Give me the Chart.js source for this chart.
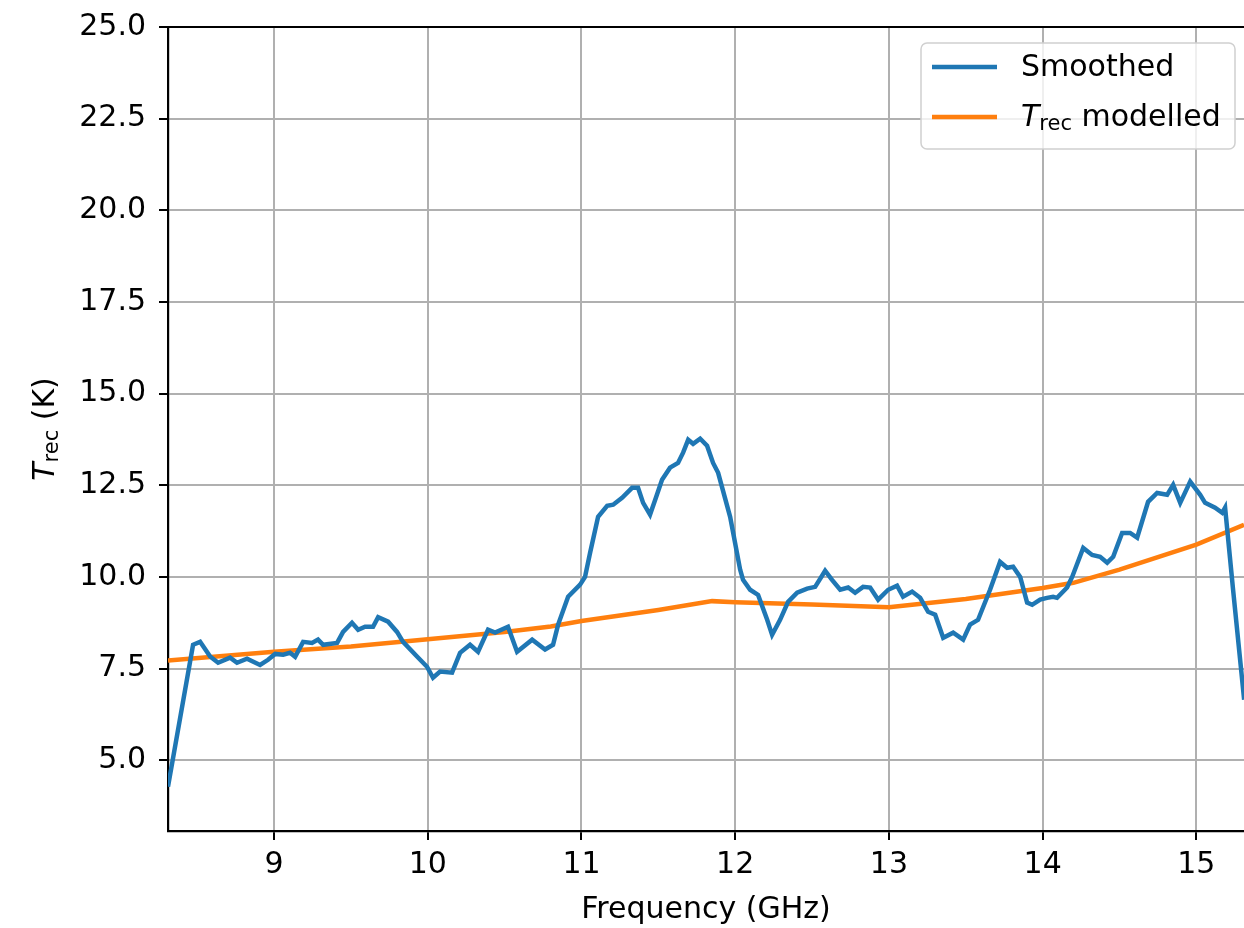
<!DOCTYPE html>
<html>
<head>
<meta charset="utf-8">
<script src="https://cdn.jsdelivr.net/npm/chart.js@4/dist/chart.umd.min.js"></script>
<style>
  html, body { margin: 0; padding: 0; background: #ffffff; }
  #wrap { width: 1244px; height: 928px; position: relative; }
  canvas { display: block; }
</style>
</head>
<body>
<div id="wrap"><canvas id="chart" width="1244" height="928"></canvas></div>
<script>
// Receiver temperature: smoothed measurement (GHz, K)
const freqSmoothed = [
  8.310, 8.473, 8.519, 8.584, 8.636, 8.714, 8.759, 8.824, 8.909, 8.961,
  9.007, 9.059, 9.104, 9.137, 9.189, 9.247, 9.286, 9.319, 9.410, 9.449,
  9.507, 9.547, 9.592, 9.644, 9.677, 9.742, 9.800, 9.839, 9.930, 9.995,
  10.034, 10.080, 10.158, 10.210, 10.275, 10.327, 10.392, 10.438, 10.522, 10.581,
  10.679, 10.763, 10.815, 10.848, 10.913, 10.991, 11.023, 11.056, 11.108, 11.167,
  11.206, 11.264, 11.329, 11.368, 11.401, 11.446, 11.479, 11.524, 11.576, 11.628,
  11.661, 11.694, 11.726, 11.772, 11.817, 11.856, 11.889, 11.967, 12.032, 12.051,
  12.097, 12.149, 12.208, 12.240, 12.292, 12.344, 12.403, 12.468, 12.520, 12.585,
  12.630, 12.683, 12.735, 12.780, 12.832, 12.878, 12.930, 12.995, 13.053, 13.092,
  13.151, 13.203, 13.255, 13.301, 13.353, 13.418, 13.483, 13.528, 13.580, 13.658,
  13.723, 13.769, 13.808, 13.854, 13.899, 13.932, 13.984, 14.029, 14.068, 14.094,
  14.159, 14.192, 14.264, 14.322, 14.374, 14.420, 14.459, 14.517, 14.569, 14.615,
  14.686, 14.745, 14.810, 14.849, 14.895, 14.960, 15.025, 15.057, 15.122, 15.168,
  15.187, 15.239, 15.311, 15.396
];
const tSmoothed = [
  4.28, 8.15, 8.23, 7.83, 7.66, 7.80, 7.66, 7.77, 7.60, 7.74,
  7.90, 7.88, 7.93, 7.82, 8.23, 8.20, 8.29, 8.15, 8.20, 8.50,
  8.75, 8.56, 8.64, 8.64, 8.90, 8.78, 8.50, 8.23, 7.83, 7.55,
  7.25, 7.42, 7.39, 7.93, 8.15, 7.96, 8.56, 8.48, 8.64, 7.96,
  8.29, 8.02, 8.15, 8.70, 9.46, 9.79, 10.00, 10.66, 11.64, 11.94,
  11.97, 12.16, 12.43, 12.43, 12.02, 11.70, 12.10, 12.65, 12.98, 13.11,
  13.39, 13.74, 13.63, 13.77, 13.58, 13.11, 12.84, 11.64, 10.20, 9.92,
  9.65, 9.51, 8.83, 8.42, 8.83, 9.32, 9.57, 9.68, 9.73, 10.17,
  9.92, 9.65, 9.71, 9.57, 9.73, 9.71, 9.38, 9.65, 9.76, 9.46,
  9.60, 9.43, 9.05, 8.97, 8.34, 8.48, 8.29, 8.70, 8.83, 9.65,
  10.41, 10.25, 10.28, 10.00, 9.30, 9.24, 9.38, 9.43, 9.46, 9.43,
  9.71, 10.00, 10.79, 10.60, 10.55, 10.39, 10.55, 11.20, 11.20, 11.07,
  12.05, 12.29, 12.24, 12.51, 12.02, 12.60, 12.24, 12.02, 11.89, 11.75,
  11.89, 9.65, 6.65, 3.20
];

// Modelled receiver temperature (GHz, K)
const freqModel = [8.31, 9.0, 9.5, 10.0, 10.5, 10.8, 11.0, 11.5, 11.85, 12.0, 12.5, 13.0, 13.5, 14.0, 14.2, 14.5, 15.0, 15.31, 15.5];
const tModel    = [7.72, 7.96, 8.10, 8.30, 8.50, 8.65, 8.80, 9.10, 9.34, 9.31, 9.25, 9.17, 9.40, 9.70, 9.84, 10.20, 10.88, 11.42, 11.75];

// Axis ranges and tick positions
const xRange = [8.31, 15.31];
const yRange = [3.07, 25.0];
const xTicks = [9, 10, 11, 12, 13, 14, 15];
const yTicks = [5.0, 7.5, 10.0, 12.5, 15.0, 17.5, 20.0, 22.5, 25.0];

const seriesNames = ['Smoothed', 'modelled'];
const FONT = '"DejaVu Sans", "Liberation Sans", sans-serif';
const FONT_SIZE = 30;
const BLUE = '#1f77b4';
const ORANGE = '#ff7f0e';

const toPoints = (xs, ys) => xs.map((x, i) => ({ x: x, y: ys[i] }));

// Draws a run of text pieces: italic symbol, subscript, plain
function drawRich(ctx, parts, x, y, size) {
  let cx = x;
  for (const p of parts) {
    const s = p.sub ? size * 0.7 : size;
    ctx.font = (p.italic ? 'italic ' : '') + s + 'px ' + FONT;
    const dy = p.sub ? size * 0.22 : 0;
    ctx.fillText(p.text, cx, y + dy);
    cx += ctx.measureText(p.text).width;
  }
  return cx - x;
}
function richWidth(ctx, parts, size) {
  let w = 0;
  for (const p of parts) {
    const s = p.sub ? size * 0.7 : size;
    ctx.font = (p.italic ? 'italic ' : '') + s + 'px ' + FONT;
    w += ctx.measureText(p.text).width;
  }
  return w;
}

const tRec = [{ text: 'T', italic: true }, { text: 'rec', sub: true }];

const decorations = {
  id: 'decorations',
  afterDatasetsDraw(chart) {
    const { ctx, chartArea: a } = chart;
    ctx.save();
    // top spine
    ctx.strokeStyle = '#000';
    ctx.lineWidth = 2.2;
    ctx.beginPath();
    ctx.moveTo(a.left - 1, a.top);
    ctx.lineTo(a.right, a.top);
    ctx.stroke();

    // legend box
    const bx = a.left + 753, by = a.top + 16, bw = 314, bh = 106, r = 6;
    ctx.beginPath();
    ctx.moveTo(bx + r, by);
    ctx.lineTo(bx + bw - r, by);
    ctx.arcTo(bx + bw, by, bx + bw, by + r, r);
    ctx.lineTo(bx + bw, by + bh - r);
    ctx.arcTo(bx + bw, by + bh, bx + bw - r, by + bh, r);
    ctx.lineTo(bx + r, by + bh);
    ctx.arcTo(bx, by + bh, bx, by + bh - r, r);
    ctx.lineTo(bx, by + r);
    ctx.arcTo(bx, by, bx + r, by, r);
    ctx.closePath();
    ctx.fillStyle = 'rgba(255,255,255,0.8)';
    ctx.fill();
    ctx.strokeStyle = '#d0d0d0';
    ctx.lineWidth = 1.5;
    ctx.stroke();

    const rows = [
      { color: BLUE, parts: [{ text: seriesNames[0] }], y: by + 24 },
      { color: ORANGE, parts: tRec.concat([{ text: ' ' + seriesNames[1] }]), y: by + 74 }
    ];
    ctx.lineCap = 'butt';
    for (const row of rows) {
      ctx.strokeStyle = row.color;
      ctx.lineWidth = 4.5;
      ctx.beginPath();
      ctx.moveTo(bx + 11, row.y);
      ctx.lineTo(bx + 76, row.y);
      ctx.stroke();
      ctx.fillStyle = '#000';
      ctx.textBaseline = 'middle';
      ctx.textAlign = 'left';
      drawRich(ctx, row.parts, bx + 100, row.y + 1, FONT_SIZE);
    }

    // y-axis title
    const yParts = tRec.concat([{ text: ' (K)' }]);
    const w = richWidth(ctx, yParts, FONT_SIZE);
    ctx.translate(46, (a.top + a.bottom) / 2);
    ctx.rotate(-Math.PI / 2);
    ctx.fillStyle = '#000';
    ctx.textBaseline = 'middle';
    ctx.textAlign = 'left';
    drawRich(ctx, yParts, -w / 2, 0, FONT_SIZE);
    ctx.restore();
  }
};

const gridStyle = { color: '#b0b0b0', lineWidth: 2, drawTicks: true, tickLength: 9, tickColor: '#000', tickWidth: 2 };

new Chart(document.getElementById('chart'), {
  type: 'line',
  data: {
    datasets: [
      {
        label: seriesNames[0],
        data: toPoints(freqSmoothed, tSmoothed),
        borderColor: BLUE,
        borderWidth: 4.5,
        pointRadius: 0,
        tension: 0,
        fill: false
      },
      {
        label: seriesNames[1],
        data: toPoints(freqModel, tModel),
        borderColor: ORANGE,
        borderWidth: 4.5,
        pointRadius: 0,
        tension: 0,
        fill: false
      }
    ]
  },
  options: {
    responsive: false,
    animation: false,
    devicePixelRatio: 1,
    layout: { padding: { left: 0, top: 27, right: 0, bottom: 0 } },
    plugins: {
      legend: { display: false },
      tooltip: { enabled: false },
      title: { display: false }
    },
    scales: {
      x: {
        type: 'linear',
        min: xRange[0],
        max: xRange[1],
        afterBuildTicks(scale) { scale.ticks = xTicks.map(v => ({ value: v })); },
        afterFit(scale) { scale.height = 97; scale.paddingLeft = 0; scale.paddingRight = 0; },
        border: { display: true, color: '#000', width: 2.2 },
        grid: gridStyle,
        ticks: {
          padding: 7,
          color: '#000',
          font: { family: FONT, size: FONT_SIZE },
          maxRotation: 0,
          autoSkip: false,
          callback: v => String(v)
        },
        title: {
          display: true,
          text: 'Frequency (GHz)',
          color: '#000',
          font: { family: FONT, size: FONT_SIZE },
          padding: { top: 0, bottom: 0 }
        }
      },
      y: {
        type: 'linear',
        min: yRange[0],
        max: yRange[1],
        afterBuildTicks(scale) { scale.ticks = yTicks.map(v => ({ value: v })); },
        afterFit(scale) { scale.width = 168; scale.paddingTop = 0; scale.paddingBottom = 0; },
        border: { display: true, color: '#000', width: 2.2 },
        grid: gridStyle,
        ticks: {
          padding: 13,
          color: '#000',
          autoSkip: false,
          font: { family: FONT, size: FONT_SIZE },
          callback: v => Number(v).toFixed(1)
        }
      }
    }
  },
  plugins: [decorations]
});
</script>
</body>
</html>
